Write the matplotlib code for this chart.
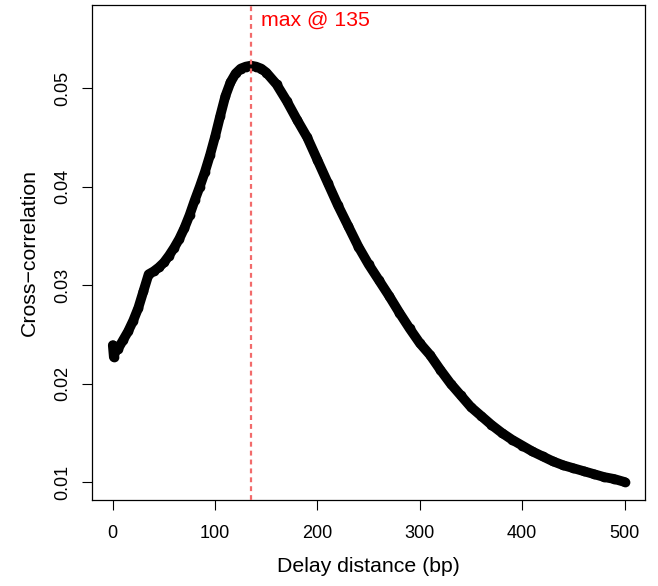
import numpy as np
import matplotlib.pyplot as plt

plt.rcParams['font.family'] = ['Liberation Sans', 'DejaVu Sans']

# cross-correlation profile
shift = [0, 1, 3, 5, 10, 15, 20, 25, 30, 35, 40, 45, 50, 55, 60, 65, 70, 75, 80, 85,
         90, 95, 100, 105, 110, 115, 120, 125, 130, 135, 140, 145, 150, 160, 170, 180,
         190, 200, 210, 220, 230, 240, 250, 260, 270, 280, 290, 300, 310, 320, 330,
         340, 350, 360, 370, 380, 390, 400, 410, 420, 430, 440, 450, 460, 470, 480,
         490, 500]
xcor = [0.0239, 0.0227, 0.0234, 0.0235, 0.0244, 0.0253, 0.0264, 0.0277, 0.0294,
        0.0311, 0.0314, 0.0318, 0.0323, 0.0330, 0.0338, 0.0347, 0.0358, 0.0371,
        0.0386, 0.0400, 0.0415, 0.0432, 0.0451, 0.0472, 0.0492, 0.0506, 0.0515,
        0.0520, 0.0522, 0.0523, 0.0522, 0.0520, 0.0516, 0.0504, 0.0487, 0.0468,
        0.0450, 0.0427, 0.0404, 0.0381, 0.0360, 0.0339, 0.0321, 0.0305, 0.0289,
        0.0272, 0.0256, 0.0241, 0.0229, 0.0214, 0.0200, 0.0188, 0.0176, 0.0167,
        0.0158, 0.0150, 0.0143, 0.0137, 0.0131, 0.0126, 0.0121, 0.0117, 0.0114,
        0.0111, 0.0108, 0.0105, 0.0103, 0.0100]
max_shift = 135

xticks = [0, 100, 200, 300, 400, 500]
yticks = [0.01, 0.02, 0.03, 0.04, 0.05]

fig = plt.figure(figsize=(6.58, 5.86), dpi=100)
ax = fig.add_axes([0.1403, 0.1463, 0.8399, 0.8452])

ax.plot(shift, xcor, color='black', lw=7, solid_capstyle='round',
        solid_joinstyle='round', marker='o', ms=7, mew=0, zorder=2)
ax.axvline(max_shift, color='#f26b6b', lw=1.6, ls=(0, (2.2, 1.8)), zorder=3)
ax.annotate('max @ ' + str(max_shift), xy=(max_shift, 0.05694), xytext=(7, 0),
            textcoords='offset points', color='red', fontsize=15.3, va='center')

ax.set_xlim(-20, 520)
ax.set_ylim(0.00814, 0.05846)
ax.set_xticks(xticks)
ax.set_xticklabels([str(t) for t in xticks])
ax.set_yticks(yticks)
ax.set_yticklabels([str(t) for t in yticks], rotation=90, va='center')
ax.tick_params(direction='out', length=7, width=0.8, labelsize=13)
ax.tick_params(axis='x', pad=10.5)
ax.tick_params(axis='y', pad=8)
for s in ax.spines.values():
    s.set_linewidth(0.9)

ax.set_xlabel('Delay distance (bp)', fontsize=15.3, labelpad=11)
ax.set_ylabel('Cross\u2212correlation', fontsize=15.3, labelpad=11)

fig.savefig('out.png', dpi=100)
